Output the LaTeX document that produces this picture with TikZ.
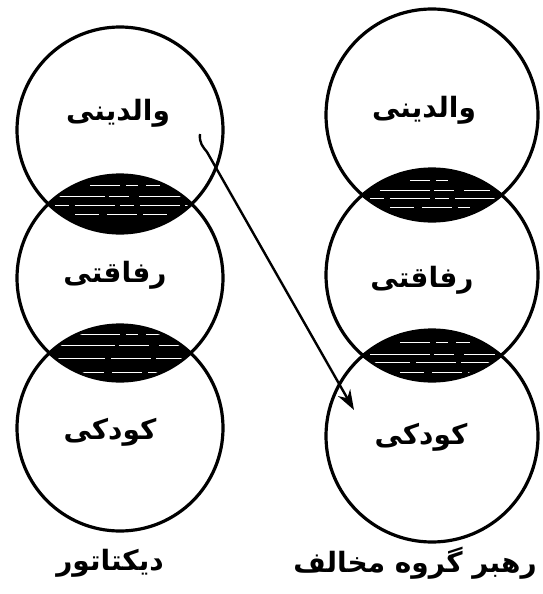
\documentclass[tikz,border=0pt]{standalone}
\usepackage{fontspec}
\newfontfamily\arabicfont[Script=Arabic]{DejaVu Sans}
\TeXXeTstate=1
\usetikzlibrary{arrows.meta}
\tikzset{
  ring/.style={circle, draw=black, line width=3.2pt, inner sep=0pt, minimum size=#1},
  lbl/.style={font=\arabicfont\bfseries\fontsize{28}{32}\selectfont, inner sep=0pt},
  hatch/.style={white, line width=0.9pt},
}
\begin{document}
\begin{tikzpicture}[x=1pt,y=-1pt]
\useasboundingbox (0,0) rectangle (542,594);
\fill[white] (0,0) rectangle (542,594);
% centres
\coordinate (cL1) at (120,130);
\coordinate (cL2) at (120,278);
\coordinate (cL3) at (120,428);
\coordinate (cR1) at (432,115);
\coordinate (cR2) at (432,275);
\coordinate (cR3) at (432,436);
% lenses
\begin{scope}
  \clip (cL1) circle (103);
  \fill[black] (cL2) circle (103);
  \begin{scope}
    \clip (cL2) circle (103);
    \draw[hatch, dash pattern=on 30pt off 6pt on 12pt off 8pt] (90,185) -- (160,185);
    \draw[hatch, dash pattern=on 50pt off 4pt on 20pt off 10pt] (55,196) -- (190,196);
    \draw[hatch, dash pattern=on 14pt off 6pt on 40pt off 5pt] (55,205) -- (190,205);
    \draw[hatch, dash pattern=on 24pt off 8pt on 30pt off 6pt] (75,214) -- (170,214);
  \end{scope}
\end{scope}
\begin{scope}
  \clip (cL2) circle (103);
  \fill[black] (cL3) circle (103);
  \begin{scope}
    \clip (cL3) circle (103);
    \draw[hatch, dash pattern=on 40pt off 6pt on 12pt off 8pt] (80,334) -- (170,334);
    \draw[hatch, dash pattern=on 60pt off 4pt on 30pt off 10pt] (55,345) -- (190,345);
    \draw[hatch, dash pattern=on 50pt off 6pt on 40pt off 5pt] (55,358) -- (190,358);
    \draw[hatch, dash pattern=on 24pt off 8pt on 30pt off 6pt] (80,372) -- (170,372);
  \end{scope}
\end{scope}
\begin{scope}
  \clip (cR1) circle (106);
  \fill[black] (cR2) circle (106);
  \begin{scope}
    \clip (cR2) circle (106);
    \draw[hatch, dash pattern=on 20pt off 6pt on 12pt off 8pt] (410,180) -- (450,180);
    \draw[hatch, dash pattern=on 50pt off 4pt on 20pt off 10pt] (380,190) -- (490,190);
    \draw[hatch, dash pattern=on 14pt off 6pt on 40pt off 5pt] (370,198) -- (495,198);
    \draw[hatch, dash pattern=on 24pt off 8pt on 30pt off 6pt] (390,207) -- (470,207);
  \end{scope}
\end{scope}
\begin{scope}
  \clip (cR2) circle (106);
  \fill[black] (cR3) circle (106);
  \begin{scope}
    \clip (cR3) circle (106);
    \draw[hatch, dash pattern=on 30pt off 6pt on 12pt off 8pt] (400,342) -- (470,342);
    \draw[hatch, dash pattern=on 60pt off 4pt on 20pt off 10pt] (370,354) -- (495,354);
    \draw[hatch, dash pattern=on 40pt off 6pt on 40pt off 5pt] (370,362) -- (495,362);
    \draw[hatch, dash pattern=on 24pt off 8pt on 30pt off 6pt] (400,372) -- (470,372);
  \end{scope}
\end{scope}
% circles
\node[ring=206pt] (L1) at (cL1) {};
\node[ring=206pt] (L2) at (cL2) {};
\node[ring=206pt] (L3) at (cL3) {};
\node[ring=212pt] (R1) at (cR1) {};
\node[ring=212pt] (R2) at (cR2) {};
\node[ring=212pt] (R3) at (cR3) {};
% labels
\node[lbl] (tL1) at (118,113) {\beginR والدینی\endR};
\node[lbl] (tL2) at (115,275) {\beginR رفاقتی\endR};
\node[lbl] (tL3) at (110,432) {\beginR کودکی\endR};
\node[lbl] (tR1) at (424,110) {\beginR والدینی\endR};
\node[lbl] (tR2) at (422,280) {\beginR رفاقتی\endR};
\node[lbl] (tR3) at (421,437) {\beginR کودکی\endR};
\node[lbl] (bL) at (110,563) {\beginR دیکتاتور\endR};
\node[lbl] (bR) at (415,563) {\beginR رهبر گروه مخالف\endR};
% arrow
\coordinate (aS) at (200,134);
\coordinate (aE) at (354,410);
\draw[line width=2.4pt, -{Stealth[length=20pt,width=14pt]}] (aS) .. controls (199,143) and (203,147) .. (207,152) -- (aE);
\end{tikzpicture}
\end{document}
